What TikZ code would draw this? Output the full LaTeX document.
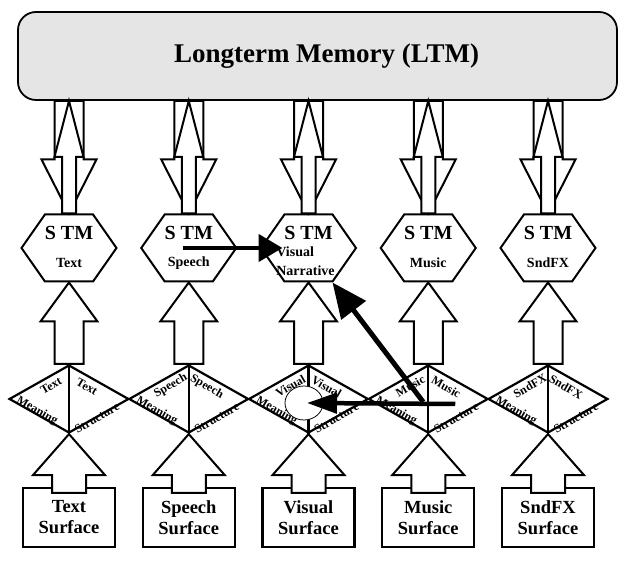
\documentclass[tikz,border=0pt]{standalone}
\usepackage{fontspec}
\setmainfont{Liberation Serif}
\usetikzlibrary{positioning,shapes.geometric,shapes.symbols,arrows.meta}

\tikzset{
  ltmbox/.style={rectangle,rounded corners=18pt,draw,line width=1.8pt,fill=black!10,
    minimum width=599pt,minimum height=88pt,font=\fontsize{27}{30}\selectfont\bfseries},
  stmbox/.style={signal,signal to=east and west,signal pointer angle=110,draw,
    line width=2pt,fill=white,minimum width=95pt,minimum height=67pt,inner sep=0pt},
  stmhead/.style={inner sep=0pt,font=\fontsize{20}{22}\selectfont\bfseries},
  stmname/.style={inner sep=0pt,font=\fontsize{14}{19}\selectfont\bfseries},
  meanbox/.style={diamond,draw,line width=2.2pt,fill=white,minimum width=119.75pt,
    minimum height=68pt,inner sep=0pt},
  meanlbl/.style={inner sep=0pt,font=\fontsize{12}{12}\selectfont\bfseries},
  divline/.style={line width=2.2pt},
  surfbox/.style={rectangle,draw,line width=2.2pt,fill=white,minimum width=92pt,
    minimum height=59pt,align=center,font=\fontsize{18.5}{21}\selectfont\bfseries},
  focusring/.style={ellipse,draw,line width=0.8pt,fill=white,minimum width=38pt,
    minimum height=34pt,inner sep=0pt},
  blockup/.style n args={4}{draw,line width=2pt,fill=white,line join=miter,
    to path={([xshift=-#1,yshift=#4]\tikztostart) -- ([xshift=-#1,yshift=-#3]\tikztotarget)
      -- ([xshift=-#2,yshift=-#3]\tikztotarget) -- (\tikztotarget)
      -- ([xshift=#2,yshift=-#3]\tikztotarget) -- ([xshift=#1,yshift=-#3]\tikztotarget)
      -- ([xshift=#1,yshift=#4]\tikztostart) -- cycle}},
  blockdown/.style n args={4}{draw,line width=2pt,fill=white,line join=miter,
    to path={([xshift=-#1,yshift=#4]\tikztostart) -- ([xshift=-#1,yshift=#3]\tikztotarget)
      -- ([xshift=-#2,yshift=#3]\tikztotarget) -- (\tikztotarget)
      -- ([xshift=#2,yshift=#3]\tikztotarget) -- ([xshift=#1,yshift=#3]\tikztotarget)
      -- ([xshift=#1,yshift=#4]\tikztostart) -- cycle}},
  flowarrow/.style={line width=4.5pt}
}

\begin{document}
\begin{tikzpicture}[x=1pt,y=-1pt,node distance=119.75pt]
  \useasboundingbox (0,0) rectangle (625,561);

  % long term memory
  \node[ltmbox] (ltm) at (317.5,56) {\hspace{18pt}Longterm Memory (LTM)};

  % short term memories
  \node[stmbox] (stm1) at (69,248) {};
  \node[stmbox,right of=stm1] (stm2) {};
  \node[stmbox,right of=stm2] (stm3) {};
  \node[stmbox,right of=stm3] (stm4) {};
  \node[stmbox,right of=stm4] (stm5) {};

  \coordinate (top1) at (ltm.south -| stm1.north);
  \coordinate (top2) at (ltm.south -| stm2.north);
  \coordinate (top3) at (ltm.south -| stm3.north);
  \coordinate (top4) at (ltm.south -| stm4.north);
  \coordinate (top5) at (ltm.south -| stm5.north);

  % LTM <-> STM
  \draw[blockdown={14.5pt}{27.5pt}{54pt}{0pt}] (top1) to (stm1.north);
  \draw[blockup={7pt}{14.5pt}{56pt}{0pt}] (stm1.north) to (top1);
  \draw[blockdown={14.5pt}{27.5pt}{54pt}{0pt}] (top2) to (stm2.north);
  \draw[blockup={7pt}{14.5pt}{56pt}{0pt}] (stm2.north) to (top2);
  \draw[blockdown={14.5pt}{27.5pt}{54pt}{0pt}] (top3) to (stm3.north);
  \draw[blockup={7pt}{14.5pt}{56pt}{0pt}] (stm3.north) to (top3);
  \draw[blockdown={14.5pt}{27.5pt}{54pt}{0pt}] (top4) to (stm4.north);
  \draw[blockup={7pt}{14.5pt}{56pt}{0pt}] (stm4.north) to (top4);
  \draw[blockdown={14.5pt}{27.5pt}{54pt}{0pt}] (top5) to (stm5.north);
  \draw[blockup={7pt}{14.5pt}{56pt}{0pt}] (stm5.north) to (top5);

  \node[stmhead] (stm1h) at ([yshift=15pt]stm1.center) {S TM};
  \node[stmhead] (stm2h) at ([yshift=15pt]stm2.center) {S TM};
  \node[stmhead] (stm3h) at ([yshift=15pt]stm3.center) {S TM};
  \node[stmhead] (stm4h) at ([yshift=15pt]stm4.center) {S TM};
  \node[stmhead] (stm5h) at ([yshift=15pt]stm5.center) {S TM};
  \node[stmname] (stm1t) at ([yshift=-15pt]stm1.center) {Text};
  \node[stmname] (stm2t) at ([yshift=-15pt]stm2.center) {Speech};
  \node[stmname,align=left] (stm3t) at ([xshift=-3pt,yshift=-13.5pt]stm3.center) {Visual\\Narrative};
  \node[stmname] (stm4t) at ([yshift=-15pt]stm4.center) {Music};
  \node[stmname] (stm5t) at ([yshift=-15pt]stm5.center) {SndFX};

  % meaning / structure
  \node[meanbox,below of=stm1,node distance=151pt] (mean1) {};
  \node[meanbox,right of=mean1] (mean2) {};
  \node[meanbox,right of=mean2] (mean3) {};
  \node[meanbox,right of=mean3] (mean4) {};
  \node[meanbox,right of=mean4] (mean5) {};
  \draw[divline] (mean1.north) -- (mean1.south);
  \draw[divline] (mean2.north) -- (mean2.south);
  \draw[divline] (mean3.north) -- (mean3.south);
  \draw[divline] (mean4.north) -- (mean4.south);
  \draw[divline] (mean5.north) -- (mean5.south);

  \node[meanlbl,rotate=30] (mean1ul) at ([shift={(-18pt,13pt)}]mean1.center) {Text};
  \node[meanlbl,rotate=-30] (mean1ll) at ([shift={(-32pt,-12pt)}]mean1.center) {Meaning};
  \node[meanlbl,rotate=-30] (mean1ur) at ([shift={(18pt,12pt)}]mean1.center) {Text};
  \node[meanlbl,rotate=30] (mean1lr) at ([shift={(28pt,-19pt)}]mean1.center) {Structure};
  \node[meanlbl,rotate=30] (mean2ul) at ([shift={(-18pt,13pt)}]mean2.center) {Speech};
  \node[meanlbl,rotate=-30] (mean2ll) at ([shift={(-32pt,-12pt)}]mean2.center) {Meaning};
  \node[meanlbl,rotate=-30] (mean2ur) at ([shift={(18pt,12pt)}]mean2.center) {Speech};
  \node[meanlbl,rotate=30] (mean2lr) at ([shift={(28pt,-19pt)}]mean2.center) {Structure};
  \node[meanlbl,rotate=30] (mean3ul) at ([shift={(-18pt,13pt)}]mean3.center) {Visual};
  \node[meanlbl,rotate=-30] (mean3ll) at ([shift={(-32pt,-12pt)}]mean3.center) {Meaning};
  \node[meanlbl,rotate=-30] (mean3ur) at ([shift={(18pt,12pt)}]mean3.center) {Visual};
  \node[meanlbl,rotate=30] (mean3lr) at ([shift={(28pt,-19pt)}]mean3.center) {Structure};
  \node[meanlbl,rotate=30] (mean4ul) at ([shift={(-18pt,13pt)}]mean4.center) {Music};
  \node[meanlbl,rotate=-30] (mean4ll) at ([shift={(-32pt,-12pt)}]mean4.center) {Meaning};
  \node[meanlbl,rotate=-30] (mean4ur) at ([shift={(18pt,12pt)}]mean4.center) {Music};
  \node[meanlbl,rotate=30] (mean4lr) at ([shift={(28pt,-19pt)}]mean4.center) {Structure};
  \node[meanlbl,rotate=30] (mean5ul) at ([shift={(-18pt,13pt)}]mean5.center) {SndFX};
  \node[meanlbl,rotate=-30] (mean5ll) at ([shift={(-32pt,-12pt)}]mean5.center) {Meaning};
  \node[meanlbl,rotate=-30] (mean5ur) at ([shift={(18pt,12pt)}]mean5.center) {SndFX};
  \node[meanlbl,rotate=30] (mean5lr) at ([shift={(28pt,-19pt)}]mean5.center) {Structure};

  \node[focusring] (focus) at (304,403) {};

  % STM -> meaning / structure
  \draw[blockup={14.5pt}{28.5pt}{39pt}{0pt}] (mean1.north) to (stm1.south);
  \draw[blockup={14.5pt}{28.5pt}{39pt}{0pt}] (mean2.north) to (stm2.south);
  \draw[blockup={14.5pt}{28.5pt}{39pt}{0pt}] (mean3.north) to (stm3.south);
  \draw[blockup={14.5pt}{28.5pt}{39pt}{0pt}] (mean4.north) to (stm4.south);
  \draw[blockup={14.5pt}{28.5pt}{39pt}{0pt}] (mean5.north) to (stm5.south);

  % surfaces
  \node[surfbox,below of=mean1,node distance=118.5pt] (surf1) {Text\\Surface};
  \node[surfbox,right of=surf1] (surf2) {Speech\\Surface};
  \node[surfbox,right of=surf2] (surf3) {Visual\\Surface};
  \node[surfbox,right of=surf3] (surf4) {Music\\Surface};
  \node[surfbox,right of=surf4] (surf5) {SndFX\\Surface};
  \draw[blockup={17pt}{36pt}{41pt}{-6pt}] (surf1.north) to (mean1.south);
  \draw[blockup={17pt}{36pt}{41pt}{-6pt}] (surf2.north) to (mean2.south);
  \draw[blockup={17pt}{36pt}{41pt}{-6pt}] (surf3.north) to (mean3.south);
  \draw[blockup={17pt}{36pt}{41pt}{-6pt}] (surf4.north) to (mean4.south);
  \draw[blockup={17pt}{36pt}{41pt}{-6pt}] (surf5.north) to (mean5.south);

  % cross links
  \coordinate (musfrom) at ([xshift=27pt,yshift=-5pt]mean4.center);
  \coordinate (musorigin) at ([xshift=-5pt,yshift=-3pt]mean4.center);
  \draw[flowarrow,-{Triangle[length=24pt,width=27pt]}] ([xshift=-6pt]stm2.center) -- ([xshift=-26pt]stm3.center);
  \draw[flowarrow,-{Triangle[length=30pt,width=20pt]}] (musfrom) -- ([xshift=3pt]focus.center);
  \draw[flowarrow,line width=5pt,-{Triangle[length=35pt,width=30pt]}] (musorigin) -- ([xshift=24pt]stm3.south);
\end{tikzpicture}
\end{document}
